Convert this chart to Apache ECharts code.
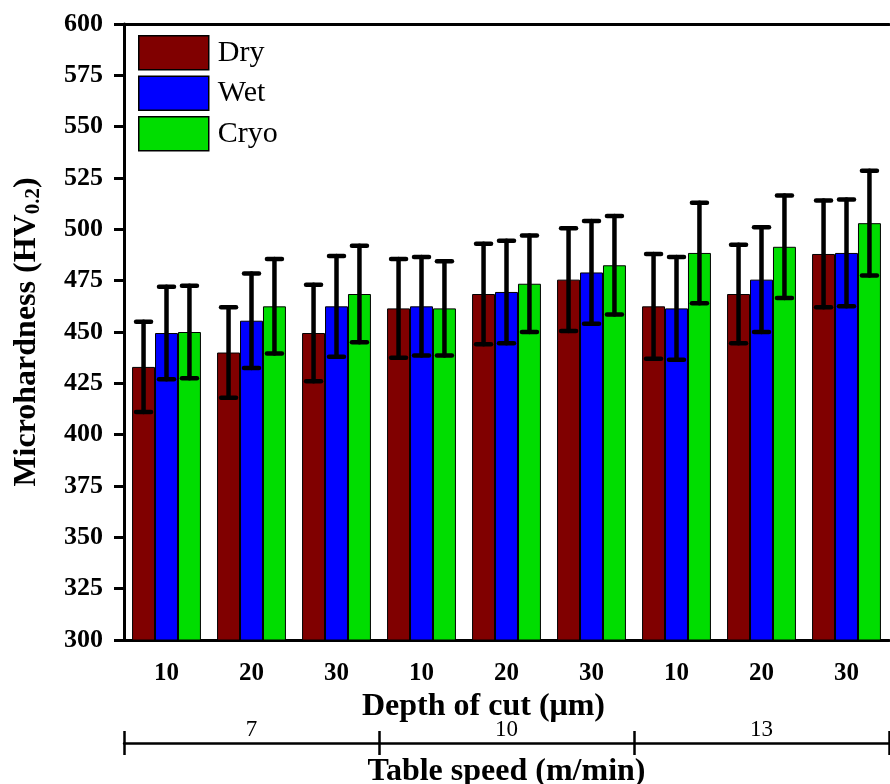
<!DOCTYPE html>
<html>
<head>
<meta charset="utf-8">
<script src="https://cdn.jsdelivr.net/npm/echarts@6/dist/echarts.min.js"></script>
<style>
  html, body { margin: 0; padding: 0; background: #fff; }
  #chart { width: 890px; height: 784px; }
</style>
</head>
<body>
<div id="chart"></div>
<script>
// Depth of cut (µm) for each bar group, grouped by table speed (m/min)
const depthLabels = ['10', '20', '30', '10', '20', '30', '10', '20', '30'];
const speedLabels = ['7', '10', '13'];
const seriesNames = ['Dry', 'Wet', 'Cryo'];

// Mean microhardness (HV0.2)
const dry  = [433, 440, 449.5, 461.5, 468.5, 475.5, 462.5, 468.5, 488];
const wet  = [449.5, 455.5, 462.5, 462.5, 469.5, 479, 461.5, 475.5, 488.5];
const cryo = [450, 462.5, 468.5, 461.5, 473.5, 482.5, 488.5, 491.5, 503];

// Standard deviation of each mean
const dryErr  = [22, 22, 23.5, 24, 24.5, 25, 25.5, 24, 26];
const wetErr  = [22.5, 23, 24.5, 24, 25, 25, 25, 25.5, 26];
const cryoErr = [22.5, 23, 23.5, 23, 23.5, 24, 24.5, 25, 25.5];

const colors = ['#800000', '#0000ff', '#00dd00'];
const FONT = "'Liberation Serif', 'Times New Roman', serif";
const CAT_GAP = 0.19;

const chart = echarts.init(document.getElementById('chart'), null, { renderer: 'canvas' });

function barSeries(name, values, color) {
  return {
    name: name,
    type: 'bar',
    xAxisIndex: 0,
    data: values,
    barGap: '0%',
    barCategoryGap: (CAT_GAP * 100) + '%',
    itemStyle: { color: color, borderColor: '#000', borderWidth: 1 },
    emphasis: { disabled: true },
    z: 2
  };
}

// Error bars drawn at the position of the k-th bar inside each category
function errorSeries(values, errs, k) {
  return {
    type: 'custom',
    xAxisIndex: 0,
    z: 5,
    silent: true,
    encode: { x: 0, y: 1 },
    data: values.map((v, i) => [i, v, errs[i]]),
    renderItem: function (params, api) {
      const i = api.value(0), v = api.value(1), e = api.value(2);
      const center = api.coord([i, v]);
      const band = api.size([1, 0])[0];
      const barW = band * (1 - CAT_GAP) / 3;
      const x = center[0] + (k - 1) * barW;
      const yTop = api.coord([i, v + e])[1];
      const yBot = api.coord([i, v - e])[1];
      const cap = 7.5;
      const style = { stroke: '#000', lineWidth: 4.5, lineCap: 'round' };
      return {
        type: 'group',
        children: [
          { type: 'line', shape: { x1: x, y1: yTop, x2: x, y2: yBot }, style: style },
          { type: 'line', shape: { x1: x - cap, y1: yTop, x2: x + cap, y2: yTop }, style: style },
          { type: 'line', shape: { x1: x - cap, y1: yBot, x2: x + cap, y2: yBot }, style: style }
        ]
      };
    }
  };
}

// Invisible series that binds the table-speed axes to the grid
function speedAxisAnchor(axisIndex) {
  return {
    type: 'line',
    xAxisIndex: axisIndex,
    data: speedLabels.map(() => null),
    symbol: 'none',
    silent: true,
    lineStyle: { opacity: 0 }
  };
}

const option = {
  animation: false,
  backgroundColor: '#fff',
  grid: { left: 124, right: 1, top: 24, bottom: 144, containLabel: false, outerBoundsMode: 'none' },
  legend: {
    data: seriesNames,
    orient: 'vertical',
    left: 138,
    top: 35,
    padding: 0,
    itemWidth: 70,
    itemHeight: 34,
    itemGap: 5,
    icon: 'rect',
    itemStyle: { borderColor: '#000', borderWidth: 1.5 },
    textStyle: { fontFamily: FONT, fontSize: 30, color: '#000', padding: [0, 0, 0, 4] },
    selectedMode: false
  },
  xAxis: [
    {
      type: 'category',
      data: depthLabels,
      position: 'bottom',
      axisLine: { lineStyle: { color: '#000', width: 3 } },
      axisTick: { alignWithLabel: true, length: 10, lineStyle: { color: '#000', width: 3 } },
      axisLabel: { fontFamily: FONT, fontWeight: 'bold', fontSize: 25, color: '#000', margin: 21 },
      name: 'Depth of cut (\u03bcm)',
      nameLocation: 'middle',
      nameGap: 45,
      nameTextStyle: { fontFamily: FONT, fontWeight: 'bold', fontSize: 32, color: '#000', padding: [0, 46, 0, 0] }
    },
    {
      type: 'category',
      data: depthLabels,
      position: 'top',
      axisLine: { lineStyle: { color: '#000', width: 3 } },
      axisTick: { show: false },
      axisLabel: { show: false }
    },
    {
      type: 'category',
      data: speedLabels,
      position: 'bottom',
      offset: 103,
      boundaryGap: true,
      axisLine: { show: true, lineStyle: { color: '#000', width: 2.5 } },
      axisTick: { show: true, interval: 0, length: 12, lineStyle: { color: '#000', width: 2.5 } },
      axisLabel: { inside: true, margin: 2, fontFamily: FONT, fontSize: 23, color: '#000' },
      name: 'Table speed (m/min)',
      nameLocation: 'middle',
      nameGap: 13,
      nameTextStyle: { fontFamily: FONT, fontWeight: 'bold', fontSize: 32, color: '#000' }
    },
    {
      type: 'category',
      data: speedLabels,
      position: 'bottom',
      offset: 103,
      boundaryGap: true,
      axisLine: { show: false },
      axisTick: { show: true, interval: 0, inside: true, length: 12, lineStyle: { color: '#000', width: 2.5 } },
      axisLabel: { show: false }
    }
  ],
  yAxis: {
    type: 'value',
    min: 300,
    max: 600,
    interval: 25,
    splitLine: { show: false },
    axisLine: { show: true, lineStyle: { color: '#000', width: 3 } },
    axisTick: { show: true, length: 10, lineStyle: { color: '#000', width: 3 } },
    axisLabel: { fontFamily: FONT, fontWeight: 'bold', fontSize: 26, color: '#000', margin: 21 },
    name: '{a|Microhardness (HV}{s|0.2}{a|)}',
    nameLocation: 'middle',
    nameGap: 80,
    nameTextStyle: {
      rich: {
        a: { fontFamily: FONT, fontWeight: 'bold', fontSize: 32, color: '#000' },
        s: { fontFamily: FONT, fontWeight: 'bold', fontSize: 21, color: '#000', padding: [14, 0, 0, 0] }
      }
    }
  },
  series: [
    barSeries('Dry', dry, colors[0]),
    barSeries('Wet', wet, colors[1]),
    barSeries('Cryo', cryo, colors[2]),
    errorSeries(dry, dryErr, 0),
    errorSeries(wet, wetErr, 1),
    errorSeries(cryo, cryoErr, 2),
    speedAxisAnchor(2),
    speedAxisAnchor(3)
  ]
};

chart.setOption(option);
</script>
</body>
</html>
